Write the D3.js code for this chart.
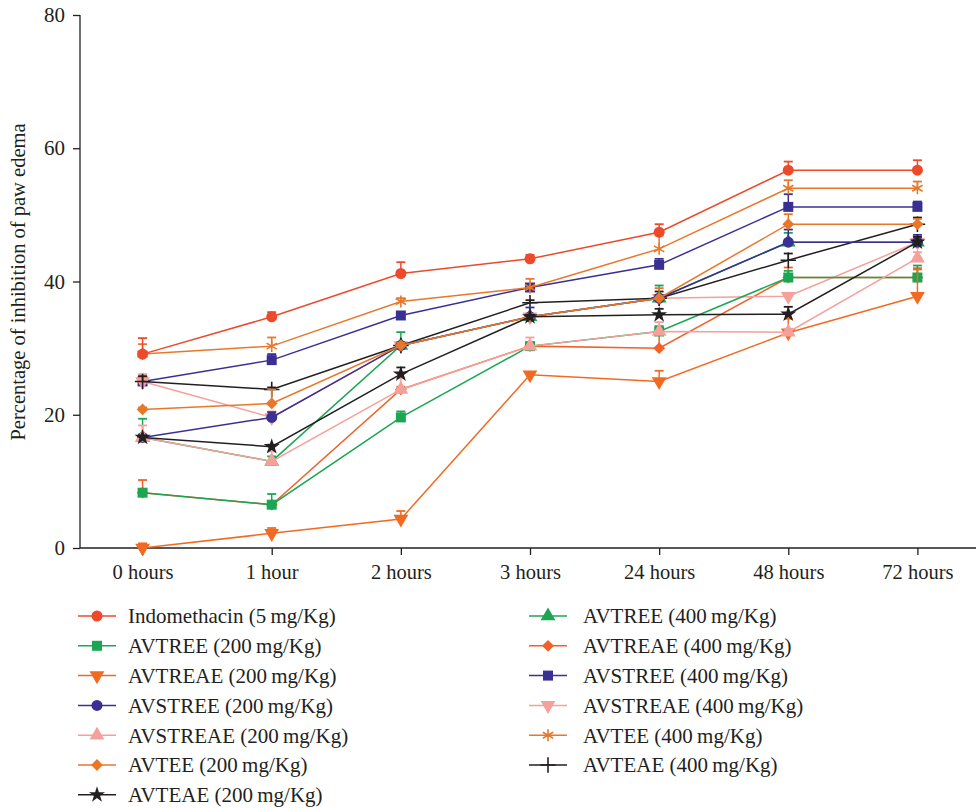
<!DOCTYPE html>
<html><head><meta charset="utf-8">
<script src="https://cdn.jsdelivr.net/npm/d3@7"></script>
<style>
html,body{margin:0;padding:0;background:#fff;}
svg text{font-family:"Liberation Serif","DejaVu Serif",serif;fill:#231f20;}
</style></head>
<body><svg id="chart" width="976" height="808"></svg>
<script>
const categories = ["0 hours","1 hour","2 hours","3 hours","24 hours","48 hours","72 hours"];
const yTicks = [0,20,40,60,80];
const yTitle = "Percentage of inhibition of paw edema";

const seriesNames = [
  "Indomethacin (5\u2009mg/Kg)","AVTREE (200\u2009mg/Kg)","AVTREAE (200\u2009mg/Kg)","AVSTREE (200\u2009mg/Kg)",
  "AVSTREAE (200\u2009mg/Kg)","AVTEE (200\u2009mg/Kg)","AVTEAE (200\u2009mg/Kg)",
  "AVTREE (400\u2009mg/Kg)","AVTREAE (400\u2009mg/Kg)","AVSTREE (400\u2009mg/Kg)","AVSTREAE (400\u2009mg/Kg)",
  "AVTEE (400\u2009mg/Kg)","AVTEAE (400\u2009mg/Kg)"
];
const indomethacin = [29.1, 34.7, 41.2, 43.4, 47.4, 56.7, 56.7];
const avtree200    = [8.3, 6.5, 19.6, 30.3, 32.5, 40.6, 40.6];
const avtreae200   = [0, 2.2, 4.35, 26.0, 25.0, 32.3, 37.8];
const avstree200   = [16.6, 19.6, 30.4, 34.7, 37.5, 45.9, 45.9];
const avstreae200  = [16.6, 13.0, 23.8, 30.3, 32.5, 32.4, 43.5];
const avtee200     = [20.8, 21.7, 30.4, 34.7, 37.5, 48.6, 48.6];
const avteae200    = [16.6, 15.2, 26.1, 34.7, 35.0, 35.1, 45.9];
const avtree400    = [16.6, 13.0, 30.4, 34.7, 37.5, 45.9, 45.9];
const avtreae400   = [8.3, 6.5, 23.8, 30.3, 30.0, 40.6, 40.6];
const avstree400   = [25.0, 28.2, 34.9, 39.1, 42.5, 51.2, 51.2];
const avstreae400  = [25.0, 19.6, 30.4, 34.7, 37.5, 37.8, 45.9];
const avtee400     = [29.1, 30.3, 37.0, 39.1, 44.9, 54.0, 54.0];
const avteae400    = [25.0, 23.8, 30.4, 36.8, 37.5, 43.2, 48.6];

const errIndomethacin = [2.4, 0.7, 1.7, 0.6, 1.2, 1.3, 1.5];
const errAvtree200    = [0.5, 1.6, 0.9, 0.5, 0.8, 1.0, 1.8];
const errAvtreae200   = [0.7, 0.8, 1.2, 0.3, 1.6, 2.1, 4.0];
const errAvstree200   = [0.4, 0.8, 0.4, 1.4, 0.5, 1.9, 1.1];
const errAvstreae200  = [1.8, 1.5, 1.7, 1.3, 1.4, 0.5, 0.9];
const errAvtee200     = [0.3, 2.1, 0.4, 0.4, 1.5, 1.5, 0.8];
const errAvteae200    = [0.3, 0.3, 1.0, 0.3, 0.9, 1.1, 0.8];
const errAvtree400    = [2.8, 0.75, 2.0, 0.4, 1.9, 1.4, 0.6];
const errAvtreae400   = [1.9, 0.4, 0.4, 0.4, 2.2, 1.5, 1.4];
const errAvstree400   = [0.4, 0.9, 0.3, 0.3, 0.9, 1.9, 0.8];
const errAvstreae400  = [1.1, 0.9, 0.4, 0.4, 0.4, 0.5, 0.5];
const errAvtee400     = [1.5, 1.3, 0.5, 1.3, 2.0, 1.2, 1.0];
const errAvteae400    = [0.8, 0.3, 0.4, 0.4, 1.0, 1.0, 1.0];

const seriesValues = [indomethacin, avtree200, avtreae200, avstree200, avstreae200, avtee200, avteae200,
  avtree400, avtreae400, avstree400, avstreae400, avtee400, avteae400];
const seriesErrors = [errIndomethacin, errAvtree200, errAvtreae200, errAvstree200, errAvstreae200, errAvtee200, errAvteae200,
  errAvtree400, errAvtreae400, errAvstree400, errAvstreae400, errAvtee400, errAvteae400];
const seriesColors = ["#ec4a2a","#1aa653","#f26a21","#3a3093","#f5a09b","#e8772a","#231f20",
  "#1aa653","#f0622a","#3a3093","#f5a09b","#e8772a","#231f20"];
const seriesMarkers = ["circle","square","down","circle","up","diamond","star",
  "up","diamond","square","down","asterisk","plus"];
// drawing order: 400 mg/Kg groups underneath, then the 200 mg/Kg groups and the reference drug
const drawOrder = [7,8,9,10,11,12,1,2,3,4,5,6,0];

const svg = d3.select("#chart");
const x = d3.scalePoint().domain(categories).range([78, 982]).padding(0.5);
const y = d3.scaleLinear().domain([0, 80]).range([548, 15]);

// axes
const yAxis = svg.append("g").attr("transform","translate(80,0)")
  .call(d3.axisLeft(y).tickValues(yTicks).tickSize(7).tickSizeOuter(0).tickPadding(8));
yAxis.selectAll("text").style("font-size","21px");
const xAxis = svg.append("g").attr("transform","translate(0,548)")
  .call(d3.axisBottom(x).tickSize(7).tickSizeOuter(0).tickPadding(9));
xAxis.select(".domain").attr("d","M80,0H976");
xAxis.selectAll("text").style("font-size","20.5px");
svg.selectAll(".domain, .tick line").attr("stroke","#231f20").attr("stroke-width",1.3);
yAxis.select(".domain").attr("d","M0,548V15");

svg.append("text").attr("transform","translate(18,282) rotate(-90)")
  .attr("text-anchor","middle").attr("dy","0.35em").style("font-size","20.5px").text(yTitle);

function symbolPath(kind, size){
  const map = {circle:d3.symbolCircle, square:d3.symbolSquare, down:d3.symbolTriangle, up:d3.symbolTriangle,
    diamond:d3.symbolSquare, star:d3.symbolStar, asterisk:d3.symbolAsterisk, plus:d3.symbolPlus};
  return d3.symbol().type(map[kind]).size(size)();
}
function drawMarker(g, kind, color, cx, cy){
  const stroked = (kind==="asterisk"||kind==="plus");
  const size = {circle:95, square:100, down:95, up:95, diamond:70, star:80, asterisk:100, plus:80}[kind];
  let rot = kind==="down" ? " rotate(180)" : (kind==="diamond" ? " rotate(45)" : "");
  const p = g.append("path").attr("d", symbolPath(kind,size))
    .attr("transform", `translate(${cx},${cy})` + rot);
  if (stroked) p.attr("fill","none").attr("stroke",color).attr("stroke-width",1.6);
  else p.attr("fill",color);
}

const line = d3.line().x((d,i)=>x(categories[i])).y(d=>y(d));
const plot = svg.append("g");
drawOrder.forEach(s => {
  const vals = seriesValues[s];
  const g = plot.append("g");
  const c = seriesColors[s];
  g.append("path").attr("d", line(vals)).attr("fill","none").attr("stroke",c).attr("stroke-width",1.5);
  vals.forEach((v,i) => {
    const cx = x(categories[i]);
    const top = y(v + seriesErrors[s][i]);
    g.append("line").attr("x1",cx).attr("x2",cx).attr("y1",y(v)).attr("y2",top).attr("stroke",c).attr("stroke-width",1.5);
    g.append("line").attr("x1",cx-4.5).attr("x2",cx+4.5).attr("y1",top).attr("y2",top).attr("stroke",c).attr("stroke-width",1.8);
  });
  vals.forEach((v,i) => drawMarker(g, seriesMarkers[s], c, x(categories[i]), y(v)));
});

// legend
const legend = svg.append("g");
seriesNames.forEach((name, s) => {
  const col = s < 7 ? 0 : 1;
  const row = s < 7 ? s : s - 7;
  const lx = col === 0 ? 78 : 529;
  const ly = 616 + row * 29.8;
  const g = legend.append("g");
  const c = seriesColors[s];
  g.append("line").attr("x1",lx).attr("x2",lx+38).attr("y1",ly).attr("y2",ly).attr("stroke",c).attr("stroke-width",1.5);
  drawMarker(g, seriesMarkers[s], c, lx+19, ly);
  g.append("text").attr("x", lx + (col===0?50:54)).attr("y", ly).attr("dy","0.35em")
    .style("font-size","21px").text(name);
});
</script></body></html>
